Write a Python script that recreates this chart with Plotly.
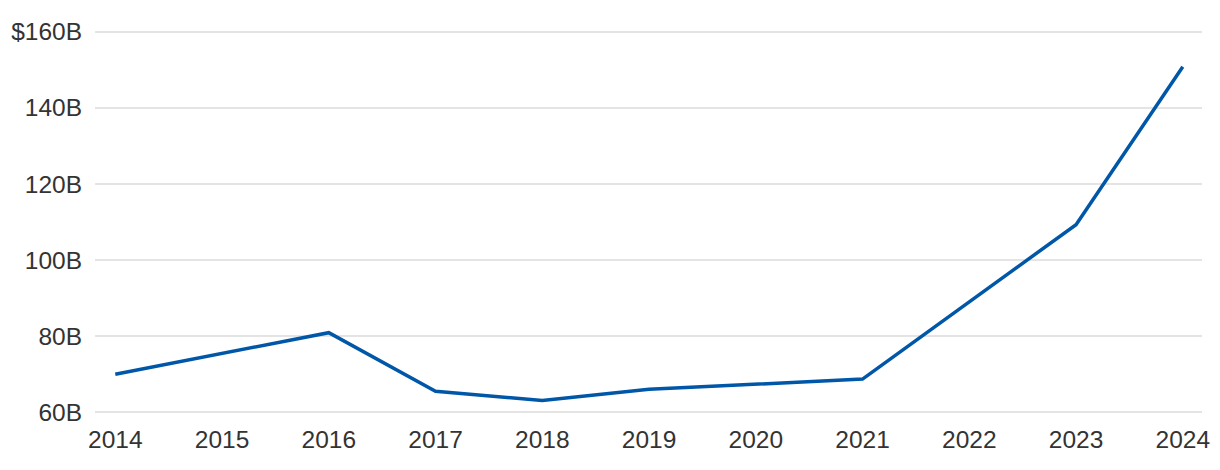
import plotly.graph_objects as go

years = [2014, 2015, 2016, 2017, 2018, 2019, 2020, 2021, 2022, 2023, 2024]
values = [70.0, 75.4, 80.9, 65.5, 63.1, 66.0, 67.4, 68.7, 89.0, 109.3, 150.8]
y_tickvals = [60, 80, 100, 120, 140, 160]
y_ticktext = ["60B", "80B", "100B", "120B", "140B", "$160B"]

fig = go.Figure()
fig.add_trace(go.Scatter(
    x=years, y=values, mode="lines",
    line=dict(color="#0057a8", width=3.5),
    cliponaxis=False, hoverinfo="skip",
))

font = dict(family="Liberation Sans, Arial, sans-serif", size=24.5, color="#333333")
fig.update_layout(
    width=1212, height=462,
    margin=dict(l=87, r=18, t=20, b=54, autoexpand=False),
    paper_bgcolor="white", plot_bgcolor="white",
    showlegend=False,
    font=font,
    xaxis=dict(
        range=[2013.81, 2024.18], automargin=False,
        tickvals=years, ticktext=[str(y) for y in years],
        showgrid=False, zeroline=False, showline=False,
        ticks="", ticklabelstandoff=6, tickfont=font,
    ),
    yaxis=dict(
        range=[59, 161], automargin=False,
        tickvals=y_tickvals, ticktext=y_ticktext,
        showgrid=True, gridcolor="#e4e4e4", gridwidth=2,
        zeroline=False, showline=False,
        ticks="", ticklabelstandoff=12, tickfont=font,
    ),
)
fig.write_html("out.html")
